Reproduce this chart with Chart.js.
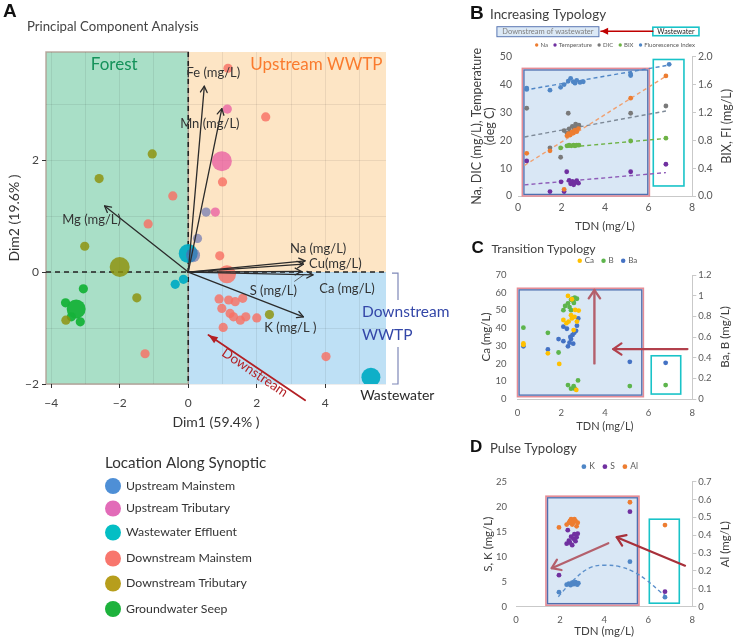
<!DOCTYPE html>
<html>
<head>
<meta charset="utf-8">
<script src="https://cdn.jsdelivr.net/npm/chart.js@4.4.0/dist/chart.umd.min.js"></script>
<style>
  html, body { margin: 0; padding: 0; background: #fff; }
  #wrap { position: relative; width: 733px; height: 642px; overflow: hidden; }
  #wrap canvas { position: absolute; left: 0; top: 0; }
</style>
</head>
<body>
<div id="wrap">
  <canvas id="cA" width="733" height="642"></canvas>
  <canvas id="cB" width="733" height="642"></canvas>
  <canvas id="cC" width="733" height="642"></canvas>
  <canvas id="cD" width="733" height="642"></canvas>
</div>
<script>
const FONT = 'Lato, "Open Sans", sans-serif';
const BOLD = '"Liberation Sans", Arial, sans-serif';
const INK = '#333';
const GREY = '#595959';

// ---- Panel A: PCA scores (Dim1, Dim2) per sampling location ----
const pcaUpMain = [[0.52, 1.07], [0.27, 0.60], [0.14, 0.30]];
const pcaUpTrib = [[1.14, 2.91], [0.98, 1.98], [0.79, 1.07]];
const pcaEffluent = [[0.00, 0.33], [-0.14, -0.13], [-0.38, -0.22], [5.33, -1.88]];
const pcaDownMain = [[1.16, 3.64], [2.26, 2.77], [1.00, 1.61], [-0.45, 1.36], [-1.17, 0.86], [0.92, 0.29],
  [1.13, -0.04], [0.90, -0.48], [1.18, -0.50], [1.37, -0.53], [1.59, -0.47], [0.98, -0.65], [1.22, -0.74],
  [1.32, -0.80], [1.52, -0.86], [1.68, -0.80], [2.00, -0.82], [1.02, -0.99], [-1.26, -1.46], [4.02, -1.51]];
const pcaDownTrib = [[-1.05, 2.11], [-2.60, 1.67], [-3.02, 0.46], [-2.00, 0.09], [-1.50, -0.46], [-3.57, -0.86], [2.37, -0.76]];
const pcaSeep = [[-3.06, -0.30], [-3.58, -0.55], [-3.27, -0.66], [-3.41, -0.80], [-3.15, -0.89]];
const pcaLoadNames = ['Fe (mg/L)', 'Mn (mg/L)', 'Mg (mg/L)', 'Na (mg/L)', 'Cu(mg/L)', 'Ca (mg/L)', 'S (mg/L)', 'K (mg/L )'];
const pcaLoadX = [0.47, 0.98, -2.44, 3.41, 3.36, 3.64, 3.30, 3.36];
const pcaLoadY = [3.32, 2.92, 1.18, 0.20, 0.14, -0.05, 0.01, -0.80];
const pcaTickX = [-4, -2, 0, 2, 4];
const pcaTickY = [-2, 0, 2];
const locNames = ['Upstream Mainstem', 'Upstream Tributary', 'Wastewater Effluent', 'Downstream Mainstem', 'Downstream Tributary', 'Groundwater Seep'];

// ---- Panel B: increasing typology vs TDN ----
const bNaX = [0.40, 1.47, 2.12, 2.25, 2.32, 2.40, 2.48, 2.55, 2.62, 2.70, 2.78, 5.18, 6.80];
const bNaY = [15.3, 16.2, 2.4, 21.6, 22.4, 21.9, 23.0, 22.6, 23.6, 23.1, 24.2, 35.1, 43.1];
const bTempX = [0.40, 1.47, 2.12, 1.98, 2.24, 2.35, 2.42, 2.50, 2.56, 2.62, 2.70, 2.78, 5.18, 6.80];
const bTempY = [12.6, 1.6, 1.6, 5.1, 8.7, 5.6, 4.4, 5.2, 4.0, 4.8, 5.5, 4.6, 8.7, 11.4];
const bDicX = [0.40, 1.47, 1.96, 2.31, 2.12, 2.25, 2.35, 2.42, 2.50, 2.58, 2.65, 2.72, 2.80, 5.18, 6.80];
const bDicY = [31.5, 17.3, 13.9, 29.7, 23.5, 22.6, 24.1, 23.0, 25.0, 24.3, 25.8, 24.6, 25.4, 29.7, 32.3];
const bBixX = [1.96, 2.25, 2.35, 2.45, 2.55, 2.62, 2.70, 2.80, 5.18, 6.80];
const bBixY = [0.69, 0.72, 0.73, 0.72, 0.73, 0.72, 0.73, 0.73, 0.79, 0.83];
const bFiX = [0.40, 0.40, 1.47, 1.96, 2.12, 2.31, 2.42, 2.54, 2.62, 2.70, 2.85, 3.00, 5.18, 5.18, 6.95];
const bFiY = [1.55, 1.53, 1.52, 1.56, 1.60, 1.65, 1.69, 1.64, 1.62, 1.66, 1.63, 1.64, 1.75, 1.73, 1.89];
const bTrendNa = [[0.3, 11.0], [6.8, 43.0]];
const bTrendTemp = [[0.3, 4.0], [6.8, 8.4]];
const bTrendDic = [[0.3, 21.2], [6.8, 30.5]];
const bTrendBix = [[1.9, 0.69], [6.8, 0.826]];
const bTrendFi = [[0.3, 1.52], [6.95, 1.88]];

// ---- Panel C: transition typology vs TDN ----
const cCaX = [0.27, 0.27, 1.39, 1.91, 2.31, 2.49, 2.64, 2.80, 2.10, 2.34, 2.49, 2.61, 2.57, 2.72, 2.45, 2.24, 2.69];
const cCaY = [31.4, 30.5, 25.8, 19.8, 58.2, 56.3, 50.3, 49.9, 44.6, 43.7, 45.5, 46.4, 38.9, 43.7, 47.3, 42.8, 5.1];
const cBaX = [0.27, 1.39, 1.88, 2.10, 2.10, 2.26, 2.31, 2.38, 2.45, 2.52, 2.60, 2.68, 2.72, 2.78, 2.55, 2.42, 5.14, 6.78];
const cBaY = [0.51, 0.48, 0.58, 0.56, 0.70, 0.68, 0.51, 0.545, 0.58, 0.62, 0.64, 0.66, 0.71, 0.78, 0.535, 0.60, 0.36, 0.35];
const cBX = [0.27, 1.39, 1.88, 2.10, 2.18, 2.31, 2.38, 2.45, 2.52, 2.62, 2.72, 2.55, 2.45, 2.58, 2.31, 2.57, 2.62, 2.77, 2.45, 5.14, 6.78];
const cBY = [0.69, 0.64, 0.45, 0.86, 0.90, 0.925, 0.89, 0.96, 0.97, 0.98, 0.97, 0.95, 0.86, 0.93, 0.135, 0.125, 0.10, 0.18, 0.10, 0.125, 0.135];

// ---- Panel D: pulse typology vs TDN ----
const dKX = [1.95, 2.30, 2.40, 2.48, 2.55, 2.62, 2.70, 2.78, 2.83, 5.17, 6.76];
const dKY = [2.9, 4.4, 4.6, 4.3, 4.8, 4.5, 4.9, 4.4, 4.7, 9.0, 1.9];
const dSX = [1.95, 2.35, 2.30, 2.40, 2.45, 2.50, 2.55, 2.60, 2.65, 2.70, 2.75, 2.80, 5.17, 6.76];
const dSY = [6.3, 15.3, 12.6, 13.2, 12.8, 14.0, 12.3, 13.6, 14.5, 13.1, 13.9, 14.6, 19.0, 3.0];
const dAlX = [1.95, 2.30, 2.40, 2.45, 2.50, 2.55, 2.60, 2.65, 2.70, 2.75, 2.80, 5.17, 6.76];
const dAlY = [0.444, 0.46, 0.47, 0.48, 0.49, 0.46, 0.47, 0.49, 0.48, 0.45, 0.47, 0.585, 0.457];
const dKCurveX = [1.92, 2.6, 3.36, 4.04, 4.72, 5.33, 5.93, 6.54, 6.76];
const dKCurveY = [2.0, 5.3, 7.8, 8.3, 8.0, 7.0, 5.3, 3.0, 2.3];

Chart.defaults.font.family = FONT;

const xy = (xs, ys) => xs.map((v, i) => ({ x: v, y: ys[i] }));
const pairs = pts => pts.map(p => ({ x: p[0], y: p[1] }));

function text(ctx, s, x, y, o) {
  ctx.save();
  ctx.font = o.font;
  ctx.fillStyle = o.color || INK;
  ctx.textAlign = o.align || 'center';
  ctx.textBaseline = o.base || 'middle';
  ctx.translate(x, y);
  if (o.rot) ctx.rotate(o.rot);
  ctx.fillText(s, 0, 0);
  ctx.restore();
}

function arrow(ctx, x1, y1, x2, y2, o) {
  const a = Math.atan2(y2 - y1, x2 - x1), h = o.head || 7, w = o.spread || 0.45;
  ctx.save();
  ctx.strokeStyle = ctx.fillStyle = o.color;
  ctx.lineWidth = o.lw || 1.2;
  ctx.lineCap = 'round';
  ctx.lineJoin = 'round';
  ctx.beginPath(); ctx.moveTo(x1, y1); ctx.lineTo(x2, y2); ctx.stroke();
  ctx.beginPath();
  ctx.moveTo(x2 - h * Math.cos(a - w), y2 - h * Math.sin(a - w));
  ctx.lineTo(x2, y2);
  ctx.lineTo(x2 - h * Math.cos(a + w), y2 - h * Math.sin(a + w));
  if (o.filled) { ctx.closePath(); ctx.fill(); } else ctx.stroke();
  ctx.restore();
}

function miniLegend(ctx, items, x, y, size) {
  ctx.save();
  ctx.font = size + 'px ' + FONT;
  ctx.textBaseline = 'middle';
  let cx = x;
  const r = size * 0.28;
  items.forEach(([label, color]) => {
    ctx.fillStyle = color;
    ctx.beginPath(); ctx.arc(cx + r, y, r, 0, Math.PI * 2); ctx.fill();
    cx += 2 * r + size * 0.35;
    ctx.fillStyle = GREY;
    ctx.fillText(label, cx, y);
    cx += ctx.measureText(label).width + size * 0.9;
  });
  ctx.restore();
}

// excel-like shaded sample box with red/blue frame
function sampleBox(ctx, x1, y1, x2, y2) {
  ctx.save();
  ctx.fillStyle = '#D9E7F5';
  ctx.fillRect(x1, y1, x2 - x1, y2 - y1);
  ctx.strokeStyle = '#E58C96'; ctx.lineWidth = 1.6;
  ctx.strokeRect(x1, y1, x2 - x1, y2 - y1);
  ctx.strokeStyle = '#4F6FAF'; ctx.lineWidth = 1.3;
  ctx.strokeRect(x1 + 1.6, y1 + 1.6, x2 - x1 - 3.2, y2 - y1 - 3.2);
  ctx.restore();
}
function tealBox(ctx, x1, y1, x2, y2) {
  ctx.save();
  ctx.strokeStyle = '#19C3C8'; ctx.lineWidth = 1.6;
  ctx.strokeRect(x1, y1, x2 - x1, y2 - y1);
  ctx.restore();
}

const base = {
  type: 'scatter',
  options: {
    responsive: false,
    animation: false,
    events: [],
    plugins: { legend: { display: false }, tooltip: { enabled: false } }
  }
};

// ================= Panel A =================
const bigA = { up: [2], trib: [1], eff: [0, 3], down: [6], dtrib: [3], seep: [2] };
function pcaSet(label, pts, color, big, bigR) {
  return {
    label, data: pairs(pts), backgroundColor: color, borderWidth: 0,
    pointRadius: pts.map((p, i) => big.includes(i) ? (bigR || 8.5) : 4.6)
  };
}

const pcaPlugin = {
  id: 'pca',
  beforeDraw(chart) {
    const { ctx, scales: { x, y } } = chart;
    const X = v => x.getPixelForValue(v), Y = v => y.getPixelForValue(v);
    ctx.save();
    ctx.fillStyle = '#A9DFC7';
    ctx.fillRect(X(x.min), Y(y.max), X(0) - X(x.min), Y(y.min) - Y(y.max));
    ctx.fillStyle = '#FDE5C5';
    ctx.fillRect(X(0), Y(y.max), X(x.max) - X(0), Y(0) - Y(y.max));
    ctx.fillStyle = '#BEE0F5';
    ctx.fillRect(X(0), Y(0), X(x.max) - X(0), Y(y.min) - Y(0));
    ctx.strokeStyle = 'rgba(175,155,145,0.85)'; ctx.lineWidth = 1.5;
    ctx.strokeRect(X(x.min), Y(y.max), X(0) - X(x.min), Y(y.min) - Y(y.max));
    ctx.restore();
  },
  beforeDatasetsDraw(chart) {
    const { ctx, scales: { x, y } } = chart;
    ctx.save();
    ctx.strokeStyle = '#222'; ctx.lineWidth = 1.6; ctx.setLineDash([5, 4]);
    ctx.beginPath();
    ctx.moveTo(x.getPixelForValue(0), y.getPixelForValue(y.max));
    ctx.lineTo(x.getPixelForValue(0), y.getPixelForValue(y.min));
    ctx.moveTo(x.getPixelForValue(x.min), y.getPixelForValue(0));
    ctx.lineTo(x.getPixelForValue(x.max), y.getPixelForValue(0));
    ctx.stroke();
    ctx.restore();
  },
  afterDatasetsDraw(chart) {
    const { ctx, chartArea: ca, scales: { x, y } } = chart;
    const X = v => x.getPixelForValue(v), Y = v => y.getPixelForValue(v);
    const ox = X(0), oy = Y(0);
    const labelOff = [[9, -13], [-12, 15], [-13, 14], [13, -12], [32, 0], [34, 14], [-28, 19], [-13, 11]];
    pcaLoadNames.forEach((name, i) => {
      const tx = X(pcaLoadX[i]), ty = Y(pcaLoadY[i]);
      arrow(ctx, ox, oy, tx, ty, { color: '#2b2b2b', lw: 1.3, head: 7, spread: 0.5 });
      text(ctx, name, tx + labelOff[i][0], ty + labelOff[i][1], { font: '13px ' + FONT, color: '#333' });
    });
    // leader from the S label to its vector
    const sx = X(pcaLoadX[6]), sy = Y(pcaLoadY[6]);
    ctx.save(); ctx.strokeStyle = '#444'; ctx.lineWidth = 0.8;
    ctx.beginPath(); ctx.moveTo(sx - 7, sy + 10); ctx.lineTo(sx + 3, sy + 3); ctx.stroke(); ctx.restore();

    text(ctx, 'Forest', X(-2.16), ca.top + 13, { font: '17px ' + FONT, color: '#14925A' });
    text(ctx, 'Upstream WWTP', X(3.74), ca.top + 13, { font: '17px ' + FONT, color: '#FA7B2E' });
    text(ctx, 'Downstream', ca.right - 24, Y(-0.71), { font: '15.5px ' + FONT, color: '#3447A8', align: 'left' });
    text(ctx, 'WWTP', ca.right - 24, Y(-1.13), { font: '15.5px ' + FONT, color: '#3447A8', align: 'left' });
    text(ctx, 'Wastewater', X(6.1), Y(-2) + 11, { font: '14px ' + FONT, color: '#2a2a2a' });

    // bracket for the downstream quadrant
    const bx = ca.right + 12;
    ctx.save(); ctx.strokeStyle = '#7E88B8'; ctx.lineWidth = 1.2;
    ctx.beginPath();
    ctx.moveTo(bx - 6, Y(0) + 1); ctx.lineTo(bx, Y(0) + 1); ctx.lineTo(bx, Y(0) + 28);
    ctx.moveTo(bx, Y(-2) - 37); ctx.lineTo(bx, Y(-2)); ctx.lineTo(bx - 6, Y(-2));
    ctx.stroke(); ctx.restore();

    // downstream direction arrow
    const ax1 = X(3.41), ay1 = Y(-2.29), ax2 = X(0.59), ay2 = Y(-1.125);
    arrow(ctx, ax1, ay1, ax2, ay2, { color: '#B32025', lw: 1.8, head: 10, spread: 0.38, filled: true });
    const ang = Math.atan2(ay1 - ay2, ax1 - ax2);
    text(ctx, 'Downstream', (ax1 + ax2) / 2 - 2, (ay1 + ay2) / 2 + 5,
      { font: '13.5px ' + FONT, color: '#B32025', rot: ang });

    // dim axis titles
    text(ctx, 'Dim1 (59.4% )', (ca.left + ca.right) / 2, 422, { font: '14px ' + FONT, color: '#333' });
    text(ctx, 'Dim2 (19.6% )', 14, (ca.top + ca.bottom) / 2, { font: '14px ' + FONT, color: '#333', rot: -Math.PI / 2 });
  },
  afterDraw(chart) {
    const { ctx } = chart;
    text(ctx, 'A', 3, 12, { font: 'bold 19px ' + BOLD, color: '#111', align: 'left' });
    text(ctx, 'Principal Component Analysis', 27, 27, { font: '13.2px ' + FONT, color: '#444', align: 'left' });
    text(ctx, 'Location Along Synoptic', 105, 463, { font: '15.2px ' + FONT, color: '#333', align: 'left' });
    const cols = ['#4E8FD6', '#E26BB8', '#04BEC4', '#F8766D', '#B79E1C', '#1DB23C'];
    const ys = [486, 508.5, 532.5, 558.5, 583.5, 609];
    locNames.forEach((n, i) => {
      ctx.save(); ctx.fillStyle = cols[i];
      ctx.beginPath(); ctx.arc(113, ys[i], 8, 0, Math.PI * 2); ctx.fill(); ctx.restore();
      text(ctx, n, 126, ys[i], { font: '12.3px ' + FONT, color: '#333', align: 'left' });
    });
  }
};

const evenTick = list => c => (c.tick && list.includes(c.tick.value)) ? '#333' : 'rgba(0,0,0,0)';
const fmtMinus = list => v => list.includes(v) ? String(v).replace('-', '\u2212') : '';

new Chart(document.getElementById('cA'), {
  ...base,
  data: {
    datasets: [
      pcaSet(locNames[0], pcaUpMain, 'rgba(88,104,176,0.62)', bigA.up, 7),
      pcaSet(locNames[1], pcaUpTrib, 'rgba(232,84,160,0.72)', bigA.trib, 10),
      pcaSet(locNames[2], pcaEffluent, 'rgba(0,170,195,0.92)', bigA.eff, 9.5),
      pcaSet(locNames[3], pcaDownMain, 'rgba(248,112,100,0.82)', bigA.down, 9),
      pcaSet(locNames[4], pcaDownTrib, 'rgba(140,145,10,0.82)', bigA.dtrib, 10),
      pcaSet(locNames[5], pcaSeep, 'rgba(22,178,58,0.95)', bigA.seep, 9.5)
    ]
  },
  options: {
    ...base.options,
    layout: { padding: { left: 0, right: 347, top: 52, bottom: 202 } },
    scales: {
      x: {
        type: 'linear', min: -4.15, max: 5.77,
        afterFit: s => { s.height = 56; },
        ticks: { stepSize: 1, includeBounds: false, autoSkip: false, maxRotation: 0, padding: 8,
          color: '#444', font: { size: 12 }, callback: fmtMinus(pcaTickX) },
        grid: { color: 'rgba(0,0,0,0.07)', tickLength: 4, tickColor: evenTick(pcaTickX) },
        border: { display: false }
      },
      y: {
        type: 'linear', min: -2, max: 3.93,
        afterFit: s => { s.width = 46; },
        ticks: { stepSize: 1, includeBounds: false, autoSkip: false, padding: 3,
          color: '#444', font: { size: 12 }, callback: fmtMinus(pcaTickY) },
        grid: { color: 'rgba(0,0,0,0.07)', tickLength: 4, tickColor: evenTick(pcaTickY) },
        border: { display: false }
      }
    }
  },
  plugins: [pcaPlugin]
});

// ================= shared setup for B, C, D =================
function dots(label, data, color, axis) {
  return { label, data, yAxisID: axis, backgroundColor: color, borderWidth: 0, pointRadius: 2.4 };
}
function trend(data, color, axis, tension) {
  return { data, yAxisID: axis, showLine: true, borderColor: color, borderWidth: 1.4,
    borderDash: [4, 3], pointRadius: 0, tension: tension || 0, fill: false };
}
function typologyScales(o) {
  return {
    x: {
      type: 'linear', min: 0, max: 8,
      afterFit: s => { s.height = 20; },
      ticks: { stepSize: 2, padding: o.xPad, color: GREY, font: { size: o.fs } },
      grid: { display: false, drawTicks: false },
      border: { color: '#C9C9C9' }
    },
    y: {
      type: 'linear', position: 'left', min: 0, max: o.yMax,
      afterFit: s => { s.width = o.yW; },
      ticks: { stepSize: o.yStep, padding: o.yPad, color: GREY, font: { size: o.fs } },
      grid: { display: false, drawTicks: false },
      border: { display: false }
    },
    y2: {
      type: 'linear', position: 'right', min: 0, max: o.y2Max,
      afterFit: s => { s.width = o.y2W; },
      ticks: { stepSize: o.y2Step, padding: 2, color: GREY, font: { size: o.fs }, callback: o.y2Fmt },
      grid: { drawOnChartArea: false, tickLength: 4, color: '#C9C9C9' },
      border: { color: '#C9C9C9' }
    }
  };
}
function axisTitles(chart, left, right, o) {
  const { ctx, chartArea: ca } = chart;
  const my = (ca.top + ca.bottom) / 2;
  left.forEach((s, i) => text(ctx, s, ca.left - o.lx + i * o.lStep, my, { font: o.tf + 'px ' + FONT, color: '#404040', rot: -Math.PI / 2 }));
  text(ctx, right, ca.right + o.rx, my, { font: o.tf + 'px ' + FONT, color: '#404040', rot: -Math.PI / 2 });
  text(ctx, 'TDN (mg/L)', (ca.left + ca.right) / 2, ca.bottom + o.by, { font: o.xf + 'px ' + FONT, color: '#404040' });
}
function panelTitle(ctx, letter, title, x, y, lsize, tsize) {
  text(ctx, letter, x, y, { font: 'bold ' + lsize + 'px ' + BOLD, color: '#111', align: 'left' });
  text(ctx, title, x + 20, y + 1, { font: tsize + 'px ' + FONT, color: '#404040', align: 'left' });
}

// ================= Panel B =================
const colNa = '#ED7D31', colTemp = '#7030A0', colDic = '#7A7A7A', colBix = '#6DB245', colFi = '#4F86C6';
const plugB = {
  id: 'plugB',
  beforeDatasetsDraw(chart) {
    const { ctx, scales: { x, y } } = chart;
    sampleBox(ctx, x.getPixelForValue(0.2), y.getPixelForValue(45.8), x.getPixelForValue(6.04), y.getPixelForValue(0));
    tealBox(ctx, x.getPixelForValue(6.22), y.getPixelForValue(49), x.getPixelForValue(7.63), y.getPixelForValue(3.6));
  },
  afterDraw(chart) {
    const { ctx, chartArea: ca, scales: { x } } = chart;
    panelTitle(ctx, 'B', 'Increasing Typology', 470, 14, 19, 13.4);
    // header: downstream <- wastewater
    const l1 = x.getPixelForValue(-0.97), r1 = x.getPixelForValue(3.72);
    ctx.save();
    ctx.fillStyle = '#DCE9F6'; ctx.fillRect(l1, ca.top - 30, r1 - l1, 10);
    ctx.strokeStyle = '#5B78B4'; ctx.lineWidth = 1; ctx.strokeRect(l1, ca.top - 30, r1 - l1, 10);
    ctx.restore();
    text(ctx, 'Downstream of wastewater', (l1 + r1) / 2, ca.top - 25, { font: '7.5px ' + FONT, color: '#808080' });
    const l2 = x.getPixelForValue(6.2), r2 = x.getPixelForValue(8.32);
    tealBox(ctx, l2, ca.top - 29.5, r2, ca.top - 21);
    text(ctx, 'Wastewater', (l2 + r2) / 2, ca.top - 25.2, { font: '7px ' + FONT, color: '#222' });
    arrow(ctx, l2, ca.top - 25.5, r1 + 2, ca.top - 25.5, { color: '#C00000', lw: 1.4, head: 8, spread: 0.45, filled: true });
    miniLegend(ctx, [['Na', colNa], ['Temperature', colTemp], ['DIC', colDic], ['BIX', colBix], ['Fluorescence Index', colFi]], 535, ca.top - 11.7, 6);
    axisTitles(chart, ['Na, DIC (mg/L), Temperature', '(deg C)'], 'BIX, FI (mg/L)', { lx: 41, lStep: 13.3, rx: 34.7, by: 30, tf: 12.5, xf: 11.5 });
  }
};
new Chart(document.getElementById('cB'), {
  ...base,
  data: {
    datasets: [
      dots('Na', xy(bNaX, bNaY), colNa, 'y'),
      dots('Temperature', xy(bTempX, bTempY), colTemp, 'y'),
      dots('DIC', xy(bDicX, bDicY), colDic, 'y'),
      dots('BIX', xy(bBixX, bBixY), colBix, 'y2'),
      dots('Fluorescence Index', xy(bFiX, bFiY), colFi, 'y2'),
      trend(pairs(bTrendNa), '#F0A070', 'y'),
      trend(pairs(bTrendTemp), '#8E5CB8', 'y'),
      trend(pairs(bTrendDic), '#7E8A98', 'y'),
      trend(pairs(bTrendBix), '#6DB245', 'y2'),
      trend(pairs(bTrendFi), '#4F86C6', 'y2')
    ]
  },
  options: {
    ...base.options,
    layout: { padding: { left: 478, right: 0, top: 56.7, bottom: 426 } },
    scales: typologyScales({ fs: 10.5, xPad: 5, yMax: 50, yStep: 5, yW: 40, yPad: 6,
      y2Max: 2, y2Step: 0.2, y2W: 41, y2Fmt: v => v.toFixed(1) })
  },
  plugins: [plugB]
});

// ================= Panel C =================
const colCa = '#FFC000', colB = '#5DB54C', colBa = '#4472C4';
const plugC = {
  id: 'plugC',
  beforeDatasetsDraw(chart) {
    const { ctx, scales: { x, y } } = chart;
    sampleBox(ctx, x.getPixelForValue(0), y.getPixelForValue(62.5), x.getPixelForValue(5.76), y.getPixelForValue(1.3));
    tealBox(ctx, x.getPixelForValue(6.12), y.getPixelForValue(24.4), x.getPixelForValue(7.47), y.getPixelForValue(2.8));
  },
  afterDraw(chart) {
    const { ctx, chartArea: ca, scales: { x, y } } = chart;
    arrow(ctx, x.getPixelForValue(3.52), y.getPixelForValue(20.1), x.getPixelForValue(3.52), y.getPixelForValue(61.5),
      { color: '#B4606C', lw: 2.4, head: 10, spread: 0.6 });
    arrow(ctx, x.getPixelForValue(7.78), y.getPixelForValue(28.2), x.getPixelForValue(4.38), y.getPixelForValue(28.2),
      { color: '#B2404C', lw: 2.2, head: 10, spread: 0.6 });
    panelTitle(ctx, 'C', 'Transition Typology', 471.5, 248, 17, 12.2);
    miniLegend(ctx, [['Ca', colCa], ['B', colB], ['Ba', colBa]], 577.5, ca.top - 14.3, 8);
    axisTitles(chart, ['Ca (mg/L)'], 'Ba, B (mg/L)', { lx: 31, lStep: 0, rx: 32.7, by: 27, tf: 11.5, xf: 11 });
  }
};
new Chart(document.getElementById('cC'), {
  ...base,
  data: {
    datasets: [
      dots('Ca', xy(cCaX, cCaY), colCa, 'y'),
      dots('B', xy(cBX, cBY), colB, 'y2'),
      dots('Ba', xy(cBaX, cBaY), colBa, 'y2')
    ]
  },
  options: {
    ...base.options,
    layout: { padding: { left: 482.5, right: 0, top: 275, bottom: 223 } },
    scales: typologyScales({ fs: 9.5, xPad: 8, yMax: 70, yStep: 10, yW: 35, yPad: 11,
      y2Max: 1.2, y2Step: 0.2, y2W: 40.7, y2Fmt: v => String(+v.toFixed(1)) })
  },
  plugins: [plugC]
});

// ================= Panel D =================
const colK = '#4F86C6', colS = '#7030A0', colAl = '#ED7D31';
const plugD = {
  id: 'plugD',
  beforeDatasetsDraw(chart) {
    const { ctx, scales: { x, y } } = chart;
    sampleBox(ctx, x.getPixelForValue(1.36), y.getPixelForValue(22.1), x.getPixelForValue(5.58), y.getPixelForValue(0.3));
    tealBox(ctx, x.getPixelForValue(6.05), y.getPixelForValue(17.5), x.getPixelForValue(7.41), y.getPixelForValue(0.7));
  },
  afterDraw(chart) {
    const { ctx, chartArea: ca, scales: { x, y } } = chart;
    arrow(ctx, x.getPixelForValue(4.19), y.getPixelForValue(12.7), x.getPixelForValue(1.62), y.getPixelForValue(7.7),
      { color: '#B4606C', lw: 2.2, head: 10, spread: 0.6 });
    arrow(ctx, x.getPixelForValue(7.67), y.getPixelForValue(8.2), x.getPixelForValue(4.57), y.getPixelForValue(13.9),
      { color: '#A8303A', lw: 2.2, head: 10, spread: 0.6 });
    panelTitle(ctx, 'D', 'Pulse Typology', 470, 447.5, 17, 13.2);
    miniLegend(ctx, [['K', colK], ['S', colS], ['Al', colAl]], 581.5, ca.top - 15, 8.5);
    axisTitles(chart, ['S, K (mg/L)'], 'Al (mg/L)', { lx: 27.7, lStep: 0, rx: 32.7, by: 25, tf: 11.5, xf: 11.5 });
  }
};
new Chart(document.getElementById('cD'), {
  ...base,
  data: {
    datasets: [
      dots('K', xy(dKX, dKY), colK, 'y'),
      dots('S', xy(dSX, dSY), colS, 'y'),
      dots('Al', xy(dAlX, dAlY), colAl, 'y2'),
      trend(xy(dKCurveX, dKCurveY), '#5B8FCB', 'y', 0.4)
    ]
  },
  options: {
    ...base.options,
    layout: { padding: { left: 481, right: 0, top: 481.7, bottom: 15.3 } },
    scales: typologyScales({ fs: 9.5, xPad: 8, yMax: 25, yStep: 5, yW: 35, yPad: 9,
      y2Max: 0.7, y2Step: 0.1, y2W: 40.7, y2Fmt: v => String(+v.toFixed(1)) })
  },
  plugins: [plugD]
});
</script>
</body>
</html>
